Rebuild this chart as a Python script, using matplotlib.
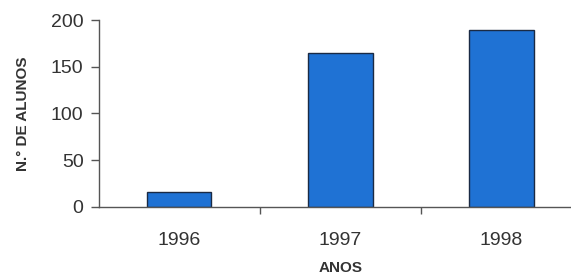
import matplotlib.pyplot as plt

plt.rcParams['font.family'] = ['Liberation Sans', 'DejaVu Sans']

# data
years = ['1996', '1997', '1998']
alunos = [16, 165, 189]
y_ticks = [0, 50, 100, 150, 200]

fig = plt.figure(figsize=(5.71, 2.74), dpi=100)
ax = fig.add_axes([0.173, 0.245, 0.846, 0.682])

x = list(range(len(years)))
ax.bar(x, alunos, width=0.4, color='#1f72d4', edgecolor='#1a2a44', linewidth=1.0)

ax.set_xlim(-0.5, 2.5)
ax.set_ylim(0, 200)
ax.set_yticks(y_ticks)
ax.set_xticks(x)
ax.set_xticklabels(years)
ax.set_xticks([0.5, 1.5], minor=True)

ax.tick_params(axis='y', direction='out', length=6, width=1, color='#555555',
               labelsize=14, labelcolor='#333333', pad=5)
ax.tick_params(axis='x', which='major', length=0, labelsize=14,
               labelcolor='#333333', pad=18)
ax.tick_params(axis='x', which='minor', direction='out', length=5, width=1,
               color='#555555')

for s in ['top', 'right']:
    ax.spines[s].set_visible(False)
for s in ['left', 'bottom']:
    ax.spines[s].set_color('#555555')
    ax.spines[s].set_linewidth(1.0)

ax.set_ylabel('N.° DE ALUNOS', fontsize=11, fontweight='bold', color='#333333', labelpad=15)
ax.set_xlabel('ANOS', fontsize=11, fontweight='bold', color='#333333', labelpad=9)

fig.savefig('out.png', dpi=100)
